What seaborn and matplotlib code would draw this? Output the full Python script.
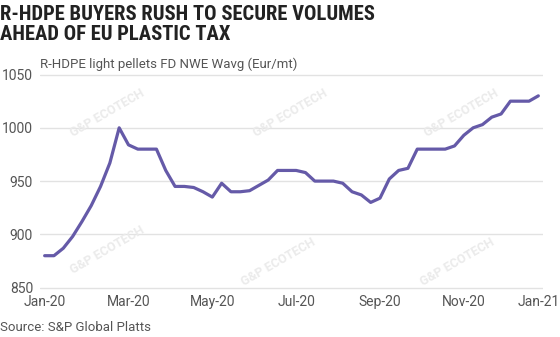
import os
import numpy as np
import pandas as pd
import matplotlib
matplotlib.use("Agg")
import matplotlib.pyplot as plt
import matplotlib.dates as mdates
from matplotlib import font_manager as fm
import seaborn as sns

# Weekly R-HDPE light pellets assessment, FD NWE weighted average (Eur/mt)
start_date = "2020-01-03"
prices = [880, 880, 887, 898, 912, 927, 945, 967, 1000, 984,
          980, 980, 980, 960, 945, 945, 944, 940, 935, 948,
          940, 940, 941, 946, 951, 960, 960, 960, 958, 950,
          950, 950, 948, 940, 937, 930, 934, 952, 960, 962,
          980, 980, 980, 980, 983, 993, 1000, 1003, 1010, 1013,
          1025, 1025, 1025, 1030]
y_ticks = [850, 900, 950, 1000, 1050]
tick_every_weeks = 9

title_lines = ["R-HDPE BUYERS RUSH TO SECURE VOLUMES", "AHEAD OF EU PLASTIC TAX"]
subtitle = "R-HDPE light pellets FD NWE Wavg (Eur/mt)"
source = "Source: S&P Global Platts"
watermark = "G&P ECOTECH"

dates = pd.date_range(start_date, periods=len(prices), freq="7D")
df = pd.DataFrame({"date": dates, "price": prices})

sns.set_theme(style="white")
plt.rcParams["font.family"] = ["Roboto", "DejaVu Sans"]


def condensed_bold_font():
    """Pick a bold narrow/condensed face if one is installed."""
    prefs = ["liberationsansnarrow-bold", "robotocondensed-bold",
             "opensanscondensed-bold", "opensans_condensed-bold",
             "opensans-condensedbold", "notosans-condensedbold",
             "dejavusanscondensed-bold", "arialnarrow"]
    files = [e.fname for e in fm.fontManager.ttflist]
    for p in prefs:
        for f in files:
            base = os.path.basename(f).lower().replace(" ", "")
            if base.startswith(p) and "italic" not in base and "oblique" not in base:
                return fm.FontProperties(fname=f)
    return fm.FontProperties(family=["Roboto", "DejaVu Sans"], weight="bold")


W, H = 560, 337
fig = plt.figure(figsize=(W / 100, H / 100), dpi=100)
fig.patch.set_facecolor("white")

# axes box in pixels: x 40..543, y 72.4..289.8
ax = fig.add_axes([40 / W, 1 - 289.8 / H, 503 / W, (289.8 - 72.4) / H])
ax.set_facecolor("white")

line_color = "#655AA8"
sns.lineplot(data=df, x="date", y="price", ax=ax, color=line_color,
             linewidth=2.3, zorder=3)
for l in ax.get_lines():
    l.set_solid_joinstyle("round")
    l.set_solid_capstyle("round")

half_week = pd.Timedelta(days=3.5)
ax.set_xlim(dates[0] - half_week, dates[-1] + half_week)
ax.set_ylim(848, 1052)

tick_dates = dates[::tick_every_weeks]
ax.set_xticks(tick_dates)
ax.xaxis.set_major_formatter(mdates.DateFormatter("%b-%y"))
ax.set_yticks(y_ticks)

ax.grid(axis="y", color="#e2e2e2", linewidth=1.0)
ax.grid(axis="x", visible=False)
for s in ax.spines.values():
    s.set_visible(False)

label_color = "#555555"
ax.tick_params(axis="both", length=0, labelsize=10, labelcolor=label_color)
ax.tick_params(axis="x", pad=3.7)
ax.tick_params(axis="y", pad=5.0)
ax.set_xlabel("")
ax.set_ylabel("")

# Final date label sits past the plot edge, tucked against the right border
next_tick = dates[-1] + pd.Timedelta(weeks=1)
ax.annotate(next_tick.strftime("%b-%y"), xy=(mdates.date2num(next_tick), 0),
            xycoords=("data", "axes fraction"), xytext=(12.3, -5.1),
            textcoords="offset pixels", ha="right", va="top",
            fontsize=10, color=label_color, annotation_clip=False)

# Headline, sized so the first line spans roughly the intended width
title_fp = condensed_bold_font()
t1 = fig.text(0.0, 1 - 19.8 / H, title_lines[0], fontproperties=title_fp,
              fontsize=15, color="#222222", va="baseline", ha="left")
t2 = fig.text(0.0, 1 - 40.0 / H, title_lines[1], fontproperties=title_fp,
              fontsize=15, color="#222222", va="baseline", ha="left")
renderer = fig.canvas.get_renderer()
w1 = t1.get_window_extent(renderer).width
size = min(16.5, 15 * 378 / w1)
t1.set_fontsize(size)
t2.set_fontsize(size)

fig.text(40 / W, 1 - 68 / H, subtitle, fontsize=9.5, color=label_color,
         va="baseline", ha="left")
fig.text(0.0, 1 - 331 / H, source, fontsize=9.5, color=label_color,
         va="baseline", ha="left")

# Faint brand watermarks
for (px, py) in [(107, 113), (290, 113), (461, 113),
                 (107, 250), (278, 262), (457, 262)]:
    ax.text(px / W, 1 - py / H, watermark, transform=fig.transFigure,
            rotation=30, fontsize=9, fontweight="bold", color="#ebebeb",
            ha="center", va="center", zorder=1, clip_on=False)

fig.savefig("out.png", dpi=100, facecolor="white")
